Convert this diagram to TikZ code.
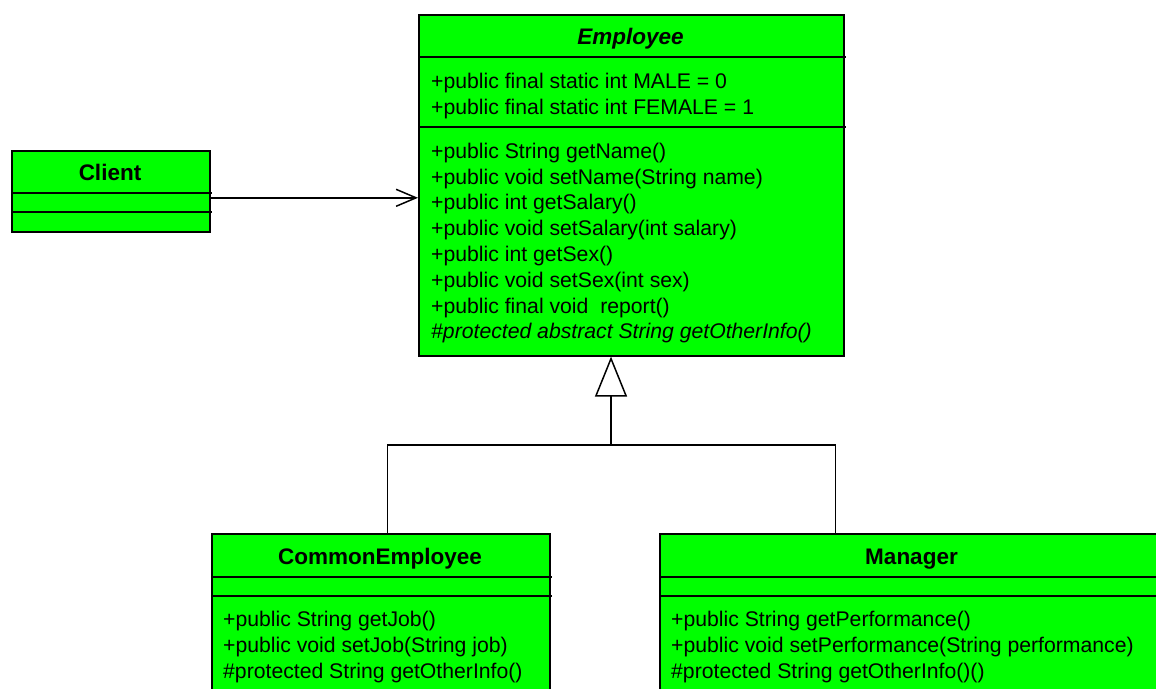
\documentclass[tikz,border=0pt]{standalone}
\usepackage{fontspec}
\setmainfont{Liberation Sans}
\usetikzlibrary{arrows.meta}
\definecolor{clsgreen}{HTML}{00FF00}
\begin{document}
\begin{tikzpicture}[x=1pt,y=-1pt,
  cls/.style={draw=black, fill=clsgreen, line width=1.6pt, inner sep=0pt, anchor=north west},
  divline/.style={line width=1.6pt},
  title/.style={anchor=base, inner sep=0pt, font=\fontsize{22.5}{26}\selectfont\bfseries},
  member/.style={anchor=base west, inner sep=0pt, font=\fontsize{21.2}{25.8}\selectfont},
  conn/.style={line width=1.5pt},
  assoc/.style={conn, -{Straight Barb[length=20pt,width=17pt,line width=1.5pt]}},
  gen/.style={conn, -{Triangle[open,length=40pt,width=32pt,line width=1.5pt,fill=white]}}
]
\useasboundingbox (0,0) rectangle (1156,688);

% Employee
\node[cls, minimum width=425pt, minimum height=341pt] (emp) at (418,14) {};
\draw[divline] (418,57) -- (846,57);
\draw[divline] (418,127) -- (846,127);
\node[title, font=\fontsize{22.5}{26}\selectfont\bfseries\itshape] (empt) at (630.5,44) {Employee};
\node[member] (ea1) at (431,88.5) {+public final static int MALE = 0};
\node[member] (ea2) at (431,114.2) {+public final static int FEMALE = 1};
\node[member] (em1) at (431,158.3) {+public String getName()};
\node[member] (em2) at (431,184.1) {+public void setName(String name)};
\node[member] (em3) at (431,209.9) {+public int getSalary()};
\node[member] (em4) at (431,235.7) {+public void setSalary(int salary)};
\node[member] (em5) at (431,261.5) {+public int getSex()};
\node[member] (em6) at (431,287.3) {+public void setSex(int sex)};
\node[member] (em7) at (431,313.1) {+public final void\ \ report()};
\node[member, font=\fontsize{21.2}{25.8}\selectfont\itshape] (em8) at (431,338.9) {\#protected abstract String getOtherInfo()};

% Client
\node[cls, minimum width=198pt, minimum height=81pt] (client) at (11,150) {};
\draw[divline] (11,193) -- (212,193);
\draw[divline] (11,212) -- (212,212);
\node[title] (clt) at (110,180) {Client};

% CommonEmployee
\node[cls, minimum width=338pt, minimum height=180pt] (ce) at (211,533) {};
\draw[divline] (211,577) -- (552,577);
\draw[divline] (211,596) -- (552,596);
\node[title] (cet) at (380,564) {CommonEmployee};
\node[member] (cm1) at (223,626.5) {+public String getJob()};
\node[member] (cm2) at (223,652.5) {+public void setJob(String job)};
\node[member] (cm3) at (223,678.5) {\#protected String getOtherInfo()};

% Manager
\node[cls, minimum width=505pt, minimum height=180pt] (mg) at (659,533) {};
\draw[divline] (659,577) -- (1170,577);
\draw[divline] (659,596) -- (1170,596);
\node[title] (mgt) at (911.5,564) {Manager};
\node[member] (mm1) at (671,626.5) {+public String getPerformance()};
\node[member] (mm2) at (671,652.5) {+public void setPerformance(String performance)};
\node[member] (mm3) at (671,678.5) {\#protected String getOtherInfo()()};

% Association Client -> Employee
\path ([yshift=-6.5pt]client.east) coordinate (a1);
\draw[assoc] (a1) -- (a1 -| emp.west);

% Generalization
\coordinate (g) at (611,445);
\draw[conn] ([xshift=6.5pt]ce.north) |- (g) -| ([xshift=-77pt]mg.north);
\draw[gen] (g) -- (g |- emp.south);
\end{tikzpicture}
\end{document}
